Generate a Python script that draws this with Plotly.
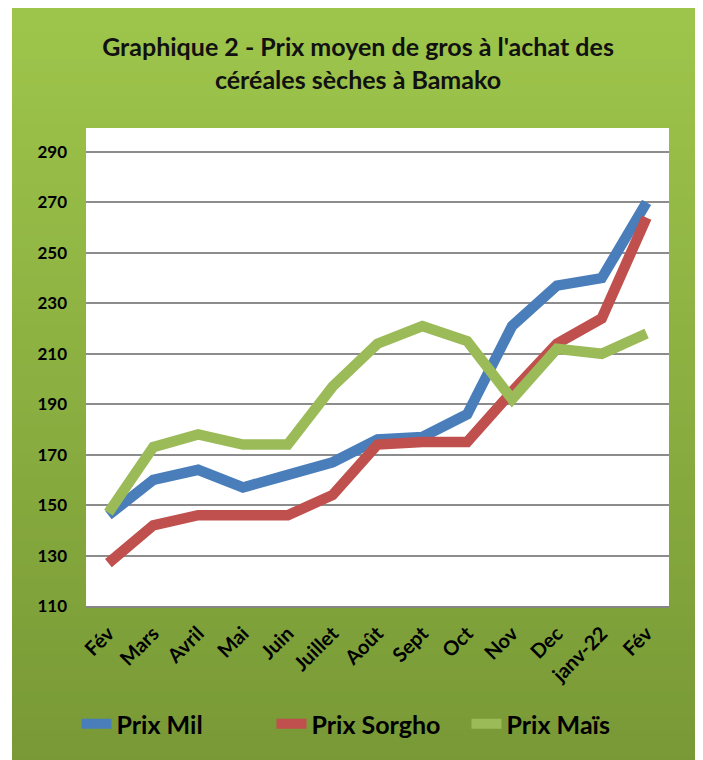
import plotly.graph_objects as go

months = ["Fév", "Mars", "Avril", "Mai", "Juin", "Juillet", "Août", "Sept",
          "Oct", "Nov", "Dec", "janv-22", "Fév"]
prix_mil = [146, 160, 164, 157, 162, 167, 176, 177, 186, 221, 237, 240, 270]
prix_sorgho = [127, 142, 146, 146, 146, 154, 174, 175, 175, 195, 214, 224, 264]
prix_mais = [147, 173, 178, 174, 174, 197, 214, 221, 215, 192, 212, 210, 218]
y_ticks = [110, 130, 150, 170, 190, 210, 230, 250, 270, 290]

OFF = 8  # page body margin
W, H = 703 - OFF, 760 - OFF
# screen coordinates of plot area
SL, SR, ST, SB = 86, 669, 128, 606
L, R, T, B = SL - OFF, W - (SR - OFF), ST - OFF, H - (SB - OFF)
pw, ph = W - L - R, H - T - B

def px_x(p):
    return (p - OFF - L) / pw

def px_y(p):
    return (H - B - (p - OFF)) / ph

FONT = "Lato"
xs = list(range(len(months)))

fig = go.Figure()
series = [("Prix Mil", prix_mil, "#4A7EBB"),
          ("Prix Sorgho", prix_sorgho, "#C0504D"),
          ("Prix Maïs", prix_mais, "#9BBB59")]
for name, vals, col in series:
    fig.add_trace(go.Scatter(x=xs, y=vals, name=name, mode="lines",
                             line=dict(color=col, width=10.5)))

# gradient green background
shapes = []
top_c = (0x9E, 0xC5, 0x4B)
bot_c = (0x78, 0x99, 0x36)
gy0, gy1 = 8, 768
n = 60
for i in range(n):
    t = i / (n - 1)
    c = tuple(round(top_c[k] + (bot_c[k] - top_c[k]) * t) for k in range(3))
    ya = gy0 + (gy1 - gy0) * i / n
    yb = gy0 + (gy1 - gy0) * (i + 1) / n + 1
    shapes.append(dict(type="rect", xref="paper", yref="paper", layer="below",
                       x0=px_x(12), x1=px_x(698), y0=px_y(ya), y1=px_y(yb),
                       line=dict(width=0), fillcolor="rgb(%d,%d,%d)" % c))
shapes.append(dict(type="rect", xref="paper", yref="paper", layer="below",
                   x0=0, x1=1, y0=0, y1=1, line=dict(width=0), fillcolor="white"))

fig.update_layout(
    width=W, height=H,
    margin=dict(l=L, r=R, t=T, b=B, autoexpand=False),
    paper_bgcolor="white", plot_bgcolor="white",
    shapes=shapes,
    title=dict(text="Graphique 2 - Prix moyen de gros à l'achat des<br>céréales sèches à Bamako",
               x=(358 - OFF) / W, xref="container", xanchor="center",
               y=1 - (56 - OFF) / H, yref="container", yanchor="middle",
               font=dict(family=FONT, size=25, color="#111", weight="bold")),
    font=dict(family=FONT, color="black"),
    xaxis=dict(range=[-0.5, 12.5], tickvals=xs, ticktext=months, tickangle=-45,
               showgrid=False, showline=True, linecolor="#868686", linewidth=2,
               ticks="", ticklabelstandoff=6,
               tickfont=dict(size=20, weight="bold", color="black"),
               zeroline=False, fixedrange=True),
    yaxis=dict(range=[110, 299.5], tickvals=y_ticks, showgrid=True,
               gridcolor="#8C8C8C", gridwidth=2, showline=False, zeroline=False,
               ticks="", ticklabelstandoff=18,
               tickfont=dict(size=17, weight="bold", color="black")),
    legend=dict(orientation="h", x=px_x(369), xanchor="center",
                y=px_y(724), yanchor="middle", entrywidth=150,
                font=dict(family=FONT, size=25, weight="bold", color="black"),
                bgcolor="rgba(0,0,0,0)"),
    showlegend=True,
)

fig.write_html("out.html")
